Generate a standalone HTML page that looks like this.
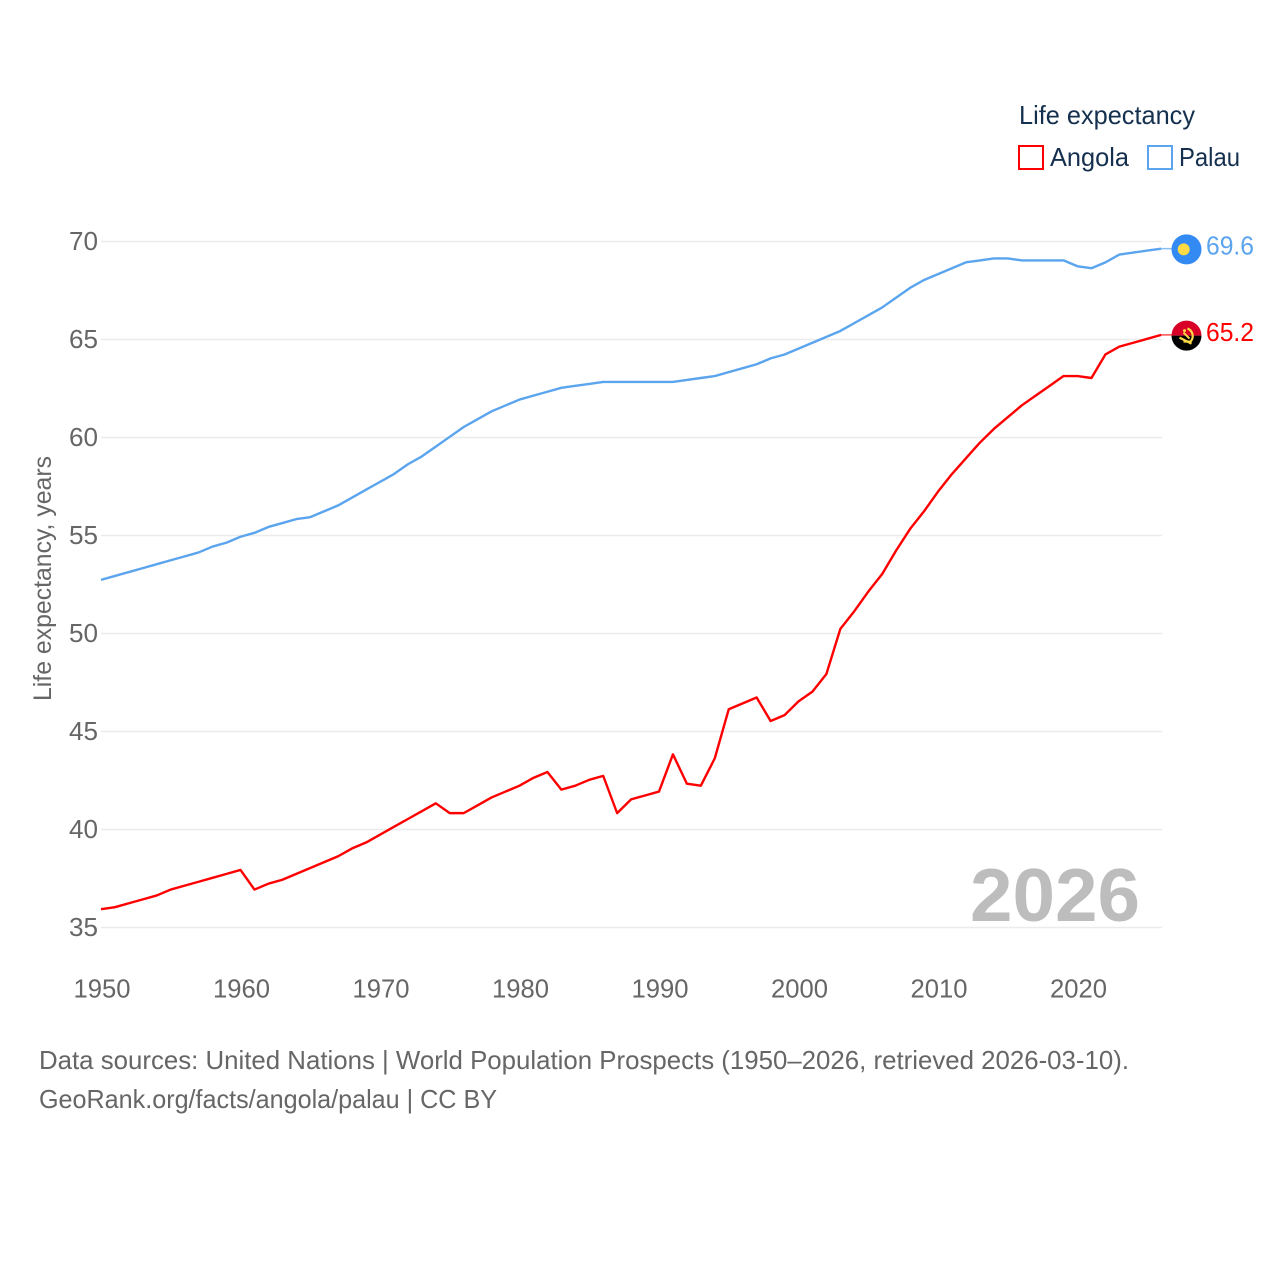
<!DOCTYPE html>
<html lang="en">
<head>
<meta charset="utf-8">
<title>Life expectancy: Angola and Palau</title>
<style>
html,body{margin:0;padding:0;background:#fff;}
svg{display:block;}
text{font-family:"Liberation Sans",sans-serif;}
</style>
</head>
<body>
<svg id="chart" xmlns="http://www.w3.org/2000/svg" width="1280" height="1280" viewBox="0 0 1280 1280">
  <rect width="1280" height="1280" fill="#fff"/>
  <g id="grid"></g>
  <g id="yticks"></g>
  <g id="xticks"></g>
  <text transform="translate(51,578.5) rotate(-90)" text-anchor="middle" font-size="25" fill="#666" textLength="245" lengthAdjust="spacingAndGlyphs">Life expectancy, years</text>
  <text x="970" y="921" font-size="75" font-weight="bold" fill="#bdbdbd" textLength="170" lengthAdjust="spacingAndGlyphs">2026</text>
  <g id="series"></g>
  <g id="flags"></g>
  <g>
    <text x="1019" y="124" font-size="26" fill="#15304f" textLength="176" lengthAdjust="spacingAndGlyphs">Life expectancy</text>
    <rect x="1019" y="146" width="24" height="23" fill="none" stroke="#ff0000" stroke-width="2"/>
    <text x="1050" y="166" font-size="26" fill="#15304f" textLength="79" lengthAdjust="spacingAndGlyphs">Angola</text>
    <rect x="1148" y="146" width="24" height="23" fill="none" stroke="#5ba4ee" stroke-width="2"/>
    <text x="1179" y="166" font-size="26" fill="#15304f" textLength="61" lengthAdjust="spacingAndGlyphs">Palau</text>
  </g>
  <g>
    <text x="39" y="1069" font-size="26" fill="#666" textLength="1090" lengthAdjust="spacingAndGlyphs">Data sources: United Nations | World Population Prospects (1950–2026, retrieved 2026-03-10).</text>
    <text x="39" y="1108" font-size="26" fill="#666" textLength="458" lengthAdjust="spacingAndGlyphs">GeoRank.org/facts/angola/palau | CC BY</text>
  </g>
</svg>
<script>
const yTicks = [35, 40, 45, 50, 55, 60, 65, 70];
const xTicks = [1950, 1960, 1970, 1980, 1990, 2000, 2010, 2020];
const startYear = 1950;
const angolaValues = [
  35.9, 36.0, 36.2, 36.4, 36.6, 36.9, 37.1, 37.3, 37.5, 37.7,
  37.9, 36.9, 37.2, 37.4, 37.7, 38.0, 38.3, 38.6, 39.0, 39.3,
  39.7, 40.1, 40.5, 40.9, 41.3, 40.8, 40.8, 41.2, 41.6, 41.9,
  42.2, 42.6, 42.9, 42.0, 42.2, 42.5, 42.7, 40.8, 41.5, 41.7,
  41.9, 43.8, 42.3, 42.2, 43.6, 46.1, 46.4, 46.7, 45.5, 45.8,
  46.5, 47.0, 47.9, 50.2, 51.1, 52.1, 53.0, 54.2, 55.3, 56.2,
  57.2, 58.1, 58.9, 59.7, 60.4, 61.0, 61.6, 62.1, 62.6, 63.1,
  63.1, 63.0, 64.2, 64.6, 64.8, 65.0, 65.2
];
const palauValues = [
  52.7, 52.9, 53.1, 53.3, 53.5, 53.7, 53.9, 54.1, 54.4, 54.6,
  54.9, 55.1, 55.4, 55.6, 55.8, 55.9, 56.2, 56.5, 56.9, 57.3,
  57.7, 58.1, 58.6, 59.0, 59.5, 60.0, 60.5, 60.9, 61.3, 61.6,
  61.9, 62.1, 62.3, 62.5, 62.6, 62.7, 62.8, 62.8, 62.8, 62.8,
  62.8, 62.8, 62.9, 63.0, 63.1, 63.3, 63.5, 63.7, 64.0, 64.2,
  64.5, 64.8, 65.1, 65.4, 65.8, 66.2, 66.6, 67.1, 67.6, 68.0,
  68.3, 68.6, 68.9, 69.0, 69.1, 69.1, 69.0, 69.0, 69.0, 69.0,
  68.7, 68.6, 68.9, 69.3, 69.4, 69.5, 69.6
];

const NS = 'http://www.w3.org/2000/svg';
function xScale(year) { return 101 + (year - 1950) * 13.95; }
function yScale(v) { return 927.5 - (v - 35) * 19.6; }
function make(tag, attrs, parent) {
  const el = document.createElementNS(NS, tag);
  for (const k in attrs) el.setAttribute(k, attrs[k]);
  parent.appendChild(el);
  return el;
}
const gridG = document.getElementById('grid');
const yG = document.getElementById('yticks');
const xG = document.getElementById('xticks');
const seriesG = document.getElementById('series');
const flagsG = document.getElementById('flags');
const plotRight = 1162;
const lineShift = -0.7;

yTicks.forEach(function (t) {
  const line = make('line', {x1: 101, x2: plotRight, y1: yScale(t), y2: yScale(t), stroke: '#ebebeb', 'stroke-width': 1.5}, gridG);
  
  
  const label = make('text', {x: 98, y: yScale(t) + 8.5, 'text-anchor': 'end', 'font-size': 26, fill: '#666', textLength: 29, lengthAdjust: 'spacingAndGlyphs'}, yG);
  label.textContent = String(t);
  
  
});

xTicks.forEach(function (t) {
  const label = make('text', {x: xScale(t) + 1, y: 997.5, 'text-anchor': 'middle', 'font-size': 26, fill: '#666', textLength: 57, lengthAdjust: 'spacingAndGlyphs'}, xG);
  label.textContent = String(t);
  
  
});

function linePoints(values) {
  return values.map(function (v, i) {
    return xScale(startYear + i).toFixed(2) + ',' + (yScale(v) + lineShift).toFixed(2);
  }).join(' ');
}

const angolaLine = make('polyline', {points: linePoints(angolaValues), fill: 'none', stroke: '#ff0000', 'stroke-width': 2.4, 'stroke-linejoin': 'round'}, seriesG);


const palauLine = make('polyline', {points: linePoints(palauValues), fill: 'none', stroke: '#5ba4ee', 'stroke-width': 2.4, 'stroke-linejoin': 'round'}, seriesG);



const lastYear = startYear + angolaValues.length - 1;
const angolaEnd = angolaValues[angolaValues.length - 1];
const palauEnd = palauValues[palauValues.length - 1];
const flagX = 1186.5;

const angolaConn = make('line', {x1: xScale(lastYear), x2: 1172, y1: yScale(angolaEnd) + lineShift, y2: yScale(angolaEnd) + lineShift, stroke: '#ff0000', 'stroke-width': 1.5, opacity: 0.7}, flagsG);


const palauConn = make('line', {x1: xScale(lastYear), x2: 1172, y1: yScale(palauEnd) + lineShift, y2: yScale(palauEnd) + lineShift, stroke: '#5ba4ee', 'stroke-width': 1.5, opacity: 0.7}, flagsG);



/* Palau flag */
const palauFlag = make('g', {transform: 'translate(' + flagX + ',' + yScale(palauEnd) + ')'}, flagsG);


make('circle', {r: 15, fill: '#338af3'}, palauFlag);
make('circle', {cx: -2.8, r: 6, fill: '#ffda44'}, palauFlag);

/* Angola flag */
const angolaFlag = make('g', {transform: 'translate(' + flagX + ',' + yScale(angolaEnd) + ')'}, flagsG);


make('path', {d: 'M-15,0 A15,15 0 0 1 15,0 Z', fill: '#d80027'}, angolaFlag);
make('path', {d: 'M-15,0 A15,15 0 0 0 15,0 Z', fill: '#000'}, angolaFlag);
make('path', {d: 'M1,-7 A8,8 0 0 1 4,6 L-3,6', fill: 'none', stroke: '#ffda44', 'stroke-width': 2.2}, angolaFlag);
make('path', {d: 'M-7,2 L5,8', fill: 'none', stroke: '#ffda44', 'stroke-width': 2.2}, angolaFlag);
make('path', {d: 'M-3,-3 L3,3', fill: 'none', stroke: '#ffda44', 'stroke-width': 2}, angolaFlag);
make('circle', {cx: -2, cy: -5, r: 1.5, fill: '#ffda44'}, angolaFlag);

const angolaLabel = make('text', {x: 1206, y: yScale(angolaEnd) + 5.5, 'font-size': 26, fill: '#ff0000', textLength: 48, lengthAdjust: 'spacingAndGlyphs'}, flagsG);
angolaLabel.textContent = angolaEnd.toFixed(1);


const palauLabel = make('text', {x: 1206, y: yScale(palauEnd) + 5, 'font-size': 26, fill: '#5ba4ee', textLength: 48, lengthAdjust: 'spacingAndGlyphs'}, flagsG);
palauLabel.textContent = palauEnd.toFixed(1);


</script>
</body>
</html>
